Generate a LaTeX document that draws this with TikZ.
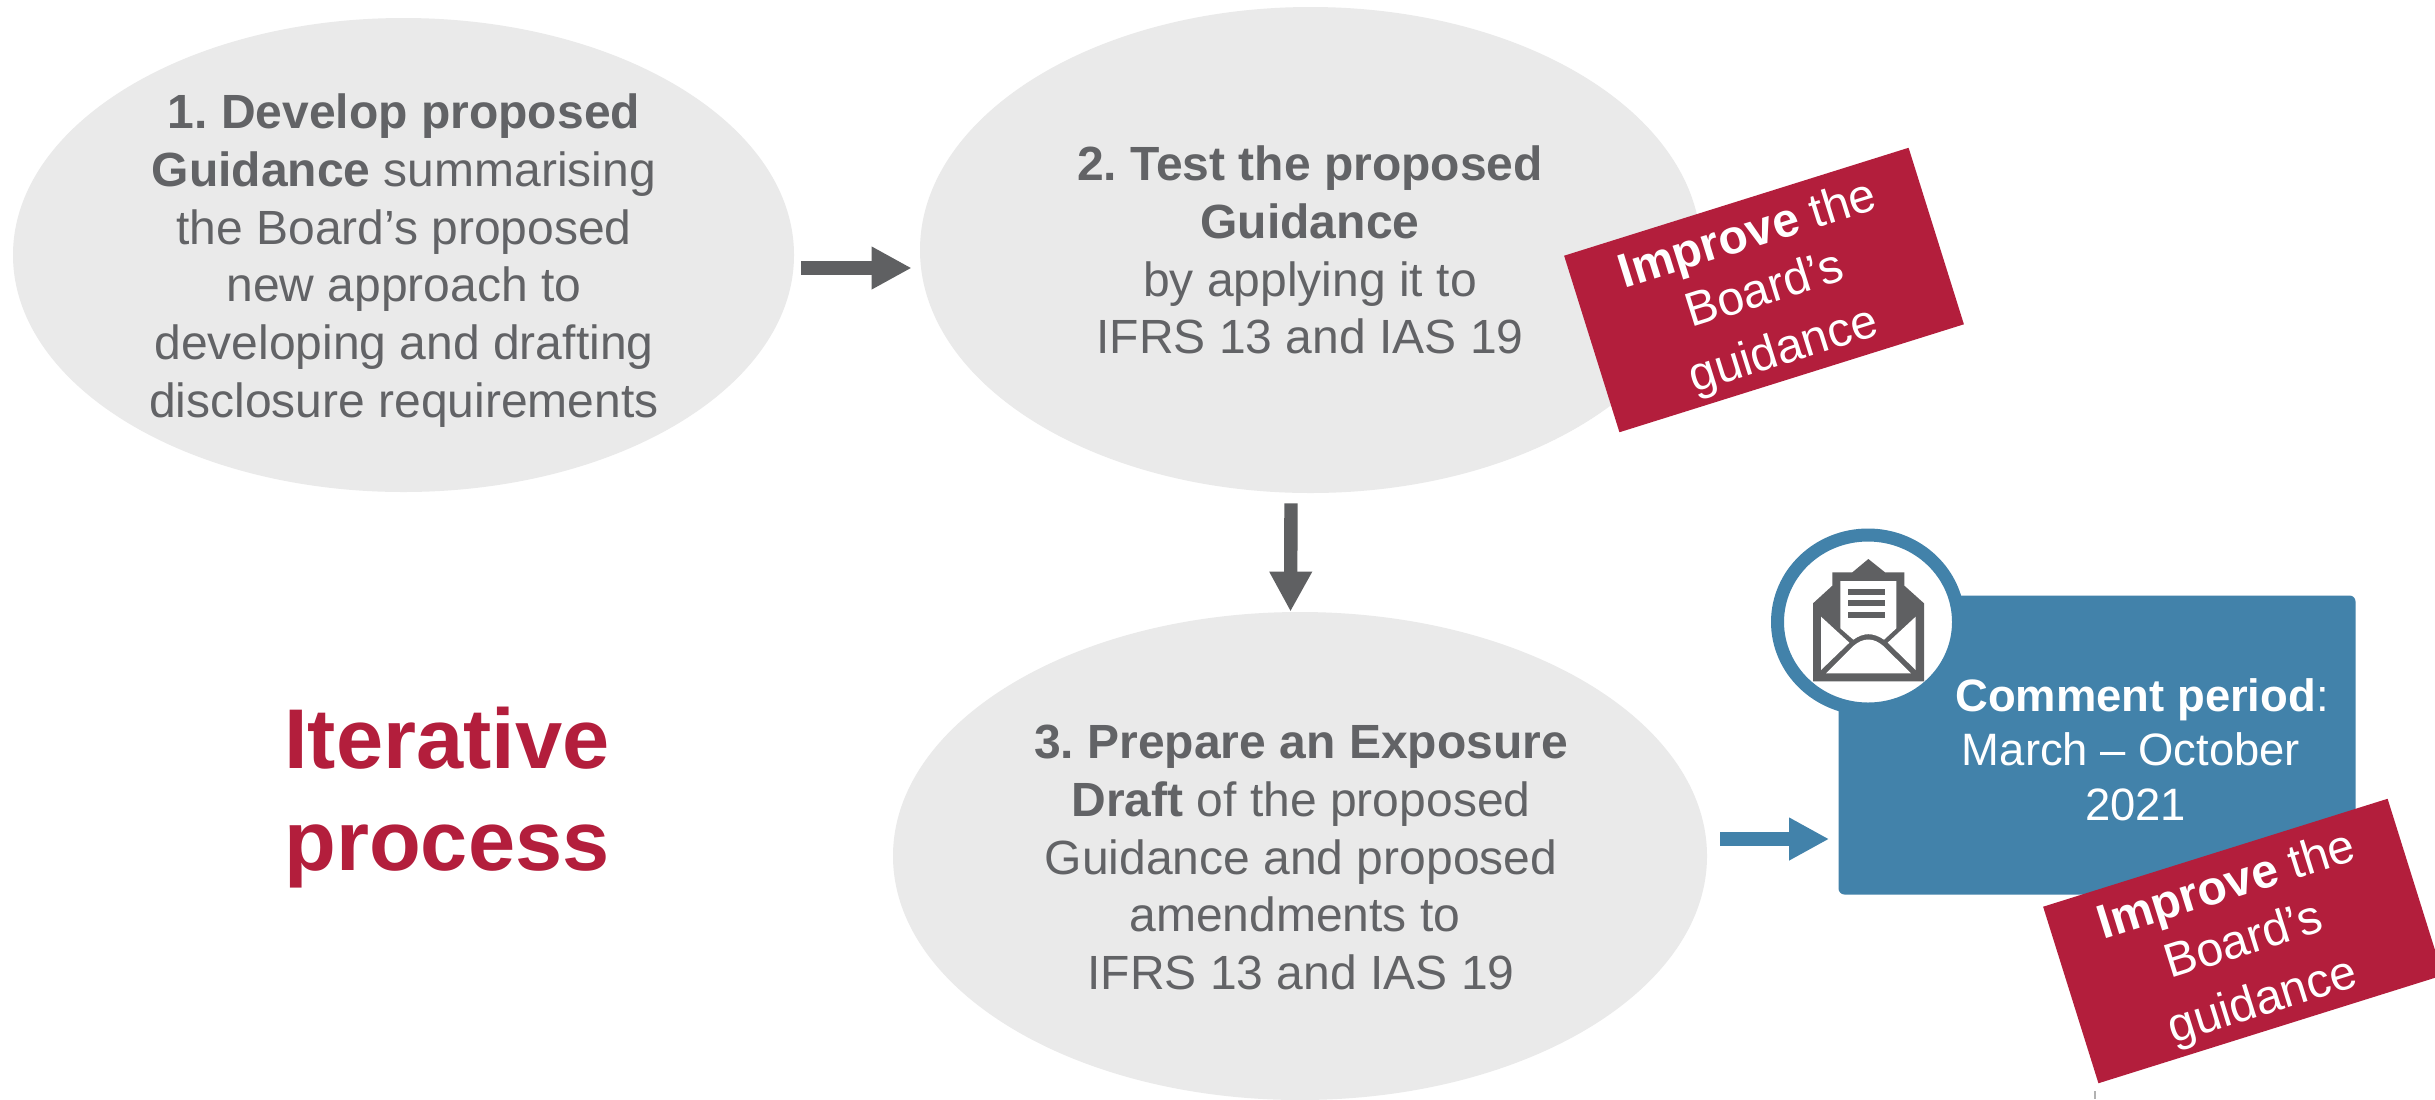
\documentclass[tikz,border=0pt]{standalone}
\usepackage{fontspec}
\setmainfont{Liberation Sans}
\usetikzlibrary{shapes.geometric,arrows.meta,calc}
\definecolor{ovalgrey}{HTML}{EAEAEA}
\definecolor{inkgrey}{HTML}{626366}
\definecolor{icongrey}{HTML}{5F6062}
\definecolor{iconred}{HTML}{B31E3C}
\definecolor{iconblue}{HTML}{4282AA}
\tikzset{
  stage/.style={ellipse,fill=ovalgrey,draw=none,inner sep=0pt},
  stagetext/.style={inner sep=0pt,text=inkgrey,align=center,
    font=\fontsize{24}{28.9}\selectfont\frenchspacing},
  redbox/.style={rectangle,fill=iconred,draw=none,inner sep=0pt,minimum width=180.5pt,minimum height=92.5pt,rotate=17.4},
  redtext/.style={inner sep=0pt,text=white,align=center,rotate=17.4,font=\fontsize{24}{28.9}\selectfont},
  flowgrey/.style={draw=icongrey,line width=6.7pt,-{Triangle[length=20pt,width=20pt,fill=icongrey]}},
  flowblue/.style={draw=iconblue,line width=6.7pt,-{Triangle[length=20pt,width=20pt,fill=iconblue]}},
}
\begin{document}
\begin{tikzpicture}[x=0.5pt,y=-0.5pt]
\useasboundingbox (0,0) rectangle (2435,1099);
\fill[white] (0,0) rectangle (2435,1099);

\node[stage,minimum width=390.5pt,minimum height=237pt] (e1) at (403.5,255) {};
\node[stagetext] (t1) at (404,260.5)
  {\textbf{1. Develop proposed}\\\textbf{Guidance} summarising\\the Board’s proposed\\new approach to\\developing and drafting\\disclosure requirements};
\node[stage,minimum width=390.5pt,minimum height=243pt] (e2) at (1310.5,250) {};
\node[stagetext] (t2) at (1310,250)
  {\textbf{2. Test the proposed}\\\textbf{Guidance}\\by applying it to\\IFRS 13 and IAS 19};
\node[stage,minimum width=407pt,minimum height=244pt] (e3) at (1300,856) {};
\node[stagetext] (t3) at (1301,857.5)
  {\textbf{3. Prepare an Exposure}\\\textbf{Draft} of the proposed\\Guidance and proposed\\amendments to\hspace*{6.2pt}\null\\IFRS 13 and IAS 19};

\node[text=iconred,align=center,inner sep=0pt,font=\fontsize{42.4}{51}\selectfont\bfseries] (title) at (447,798) {Iterative\\process};

\node[rectangle,rounded corners=3pt,fill=iconblue,inner sep=0pt,minimum width=258.5pt,minimum height=149.5pt] (cbox) at (2097,745) {};
\node[ellipse,draw=iconblue,fill=white,line width=6.5pt,inner sep=0pt,minimum width=90.5pt,minimum height=87pt] (ring) at (1868,622) {};
\node[text=white,align=center,inner sep=0pt,font=\fontsize{22.7}{27.2}\selectfont] (ctext) at (2131,749.5)
  {\hspace*{11pt}\textbf{Comment period}:\\March – October\\\hspace*{4.6pt}2021};

% envelope icon
\begin{scope}[shift={(1740,520)},x=0.16667pt,y=-0.16667pt]
  \fill[icongrey] (385,117) -- (337,157) -- (277,157) -- (277,197) -- (219,250) -- (219,484) -- (552,484) -- (552,250) -- (493,197) -- (493,157) -- (435,157) -- cycle;
  \fill[white] (301,183) -- (469,183) -- (469,325) -- (432,359) .. controls (400,337) and (370,337) .. (340,359) -- (301,325) -- cycle;
  \fill[white] (243,290) -- (243,450) -- (328,368) -- cycle;
  \fill[white] (527,290) -- (527,450) -- (443,368) -- cycle;
  \fill[white] (258,460) -- (340,378) .. controls (370,352) and (400,352) .. (430,378) -- (513,460) -- cycle;
  \fill[icongrey] (324,207) rectangle (435,225);
  \fill[icongrey] (324,240) rectangle (435,258);
  \fill[icongrey] (324,276) rectangle (435,294);
\end{scope}

\node[redbox] (r1) at (1764,290) {};
\node[redtext] (r1t) at (1766,294) {\textbf{Improve} the\\Board’s\\[2.5pt]guidance};
\node[redbox] (r2) at (2243,941) {};
\node[redtext] (r2t) at (2245,945) {\textbf{Improve} the\\Board’s\\[2.5pt]guidance};

\draw[flowgrey] ($(e1.east)+(7,13)$) -- ($(e2.west)+(-8,18)$);
\draw[flowgrey] ($(e2.south)+(-19.5,10)$) -- ($(e3.north)+(-9.5,0)$);
\draw[flowblue] ($(e3.east)+(13,-17)$) -- ($(cbox.west)+(-9,94)$);

\coordinate (tickTop) at (2095,1091);
\coordinate (tickEnd) at (2095,1099);
\draw[draw=black!30,line width=1pt] (tickTop) -- (tickEnd);
\end{tikzpicture}
\end{document}
